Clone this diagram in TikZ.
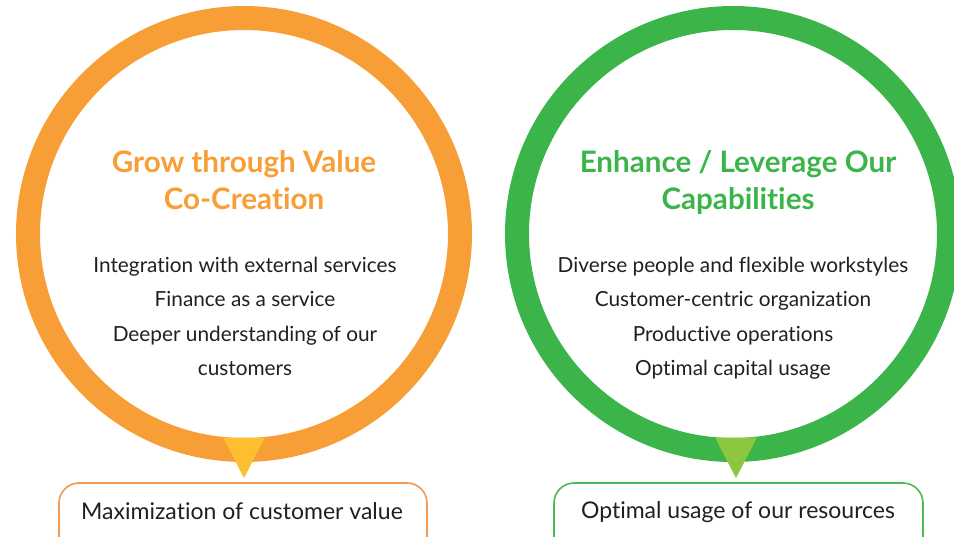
\documentclass[tikz,border=0pt]{standalone}
\usepackage{fontspec}
\setmainfont{Lato}[Ligatures=NoCommon]
\definecolor{orng}{HTML}{F79E36}
\definecolor{yel}{HTML}{FDBF2F}
\definecolor{grn}{HTML}{3BB54A}
\definecolor{lgrn}{HTML}{8DC63F}
\definecolor{obox}{HTML}{F39A52}
\definecolor{gbox}{HTML}{4DB955}
\definecolor{txt}{HTML}{231F20}
\begin{document}
\begin{tikzpicture}[x=1pt,y=-1pt,
  ring/.style={line width=24pt},
  ttl/.style={anchor=base,font=\fontsize{29.6}{34}\selectfont\bfseries},
  body/.style={anchor=base,text=txt,font=\fontsize{20.8}{24}\selectfont},
  boxtxt/.style={anchor=base,text=txt,font=\fontsize{23}{28}\selectfont},
  resbox/.style={line width=1.6pt,rounded corners=20pt,fill=white}]
\useasboundingbox (0,0) rectangle (954,536);
\begin{scope}
\clip (0,0) rectangle (954,536);
% orange
\draw[ring,draw=orng] (244,234) circle[radius=216];
\fill[yel] (223,437.5) -- (265,437.5) -- (244,478) -- cycle;
\draw[resbox,draw=obox] (59,483) rectangle (427,560);
% green
\draw[ring,draw=grn] (733,234) circle[radius=216];
\fill[lgrn] (715,437.5) -- (757,437.5) -- (736,478) -- cycle;
\draw[resbox,draw=gbox] (554,483) rectangle (923,560);
\end{scope}
\node[ttl,text=orng] (t1a) at (244,172) {Grow through Value};
\node[ttl,text=orng] (t1b) at (244,209) {Co-Creation};
\node[body] (o1) at (245,272) {Integration with external services};
\node[body] (o2) at (245,306) {Finance as a service};
\node[body] (o3) at (245,341) {Deeper understanding of our};
\node[body] (o4) at (245,375) {customers};
\node[ttl,text=grn] (t2a) at (738,172) {Enhance / Leverage Our};
\node[ttl,text=grn] (t2b) at (738,209) {Capabilities};
\node[body] (g1) at (733,272) {Diverse people and flexible workstyles};
\node[body] (g2) at (733,306) {Customer-centric organization};
\node[body] (g3) at (733,341) {Productive operations};
\node[body] (g4) at (733,375) {Optimal capital usage};
\node[boxtxt] (b1) at (242,519) {Maximization of customer value};
\node[boxtxt] (b2) at (738,518) {Optimal usage of our resources};
\end{tikzpicture}
\end{document}
